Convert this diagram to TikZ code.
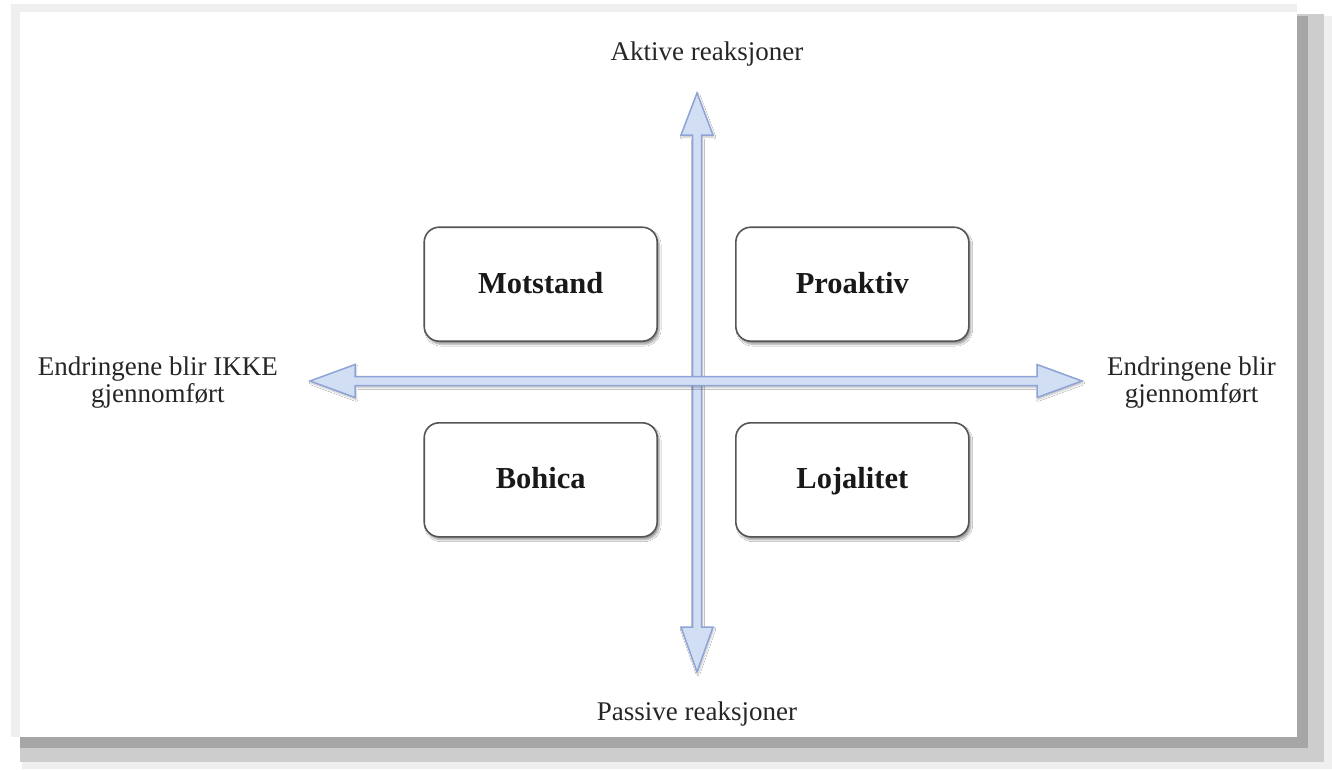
\documentclass[tikz,border=0pt]{standalone}
\usepackage{fontspec}
\setmainfont{Liberation Serif}
\usetikzlibrary{positioning,calc,shadows.blur}

\definecolor{axisfill}{HTML}{D2DEF4}
\definecolor{axisline}{HTML}{8EA4D6}
\definecolor{boxline}{HTML}{555555}
\definecolor{framelight}{HTML}{EFEFEF}
\definecolor{framemid}{HTML}{CDCDCD}
\definecolor{framedark}{HTML}{A6A6A6}

\begin{document}
\begin{tikzpicture}[
  x=1pt, y=-1pt,
  node distance=39pt and 39pt,
  quad/.style={draw=boxline, line width=1.6pt, rounded corners=15pt, fill=white, minimum width=233pt, minimum height=114pt,
    text height=22pt, text depth=4pt,
    font=\fontsize{30.5}{34}\selectfont\bfseries, text=black!90,
    blur shadow={shadow xshift=2pt, shadow yshift=-3pt, shadow blur steps=6, shadow opacity=40}},
  axislabel/.style={font=\fontsize{27}{27}\selectfont, text=black!85, align=center, inner sep=0pt},
  axis/.style={draw=axisline, fill=axisfill, line width=1.5pt, line join=miter,
    blur shadow={shadow xshift=1pt, shadow yshift=-2pt, shadow opacity=25}}
]

% frame with shadow
\useasboundingbox (0,0) rectangle (1332,769);
\fill[framelight] (11,4) rectangle (1297,737);
\fill[framelight] (22,16) rectangle (1332,769);
\fill[framemid] (20,14) rectangle (1324,762);
\fill[framedark] (20,16) rectangle (1308,748);
\fill[white] (20,12) rectangle (1297,737);

\coordinate (o) at (697,381);
\coordinate (ntip) at (697,93);
\coordinate (stip) at (697,672);
\coordinate (wtip) at (310,381);
\coordinate (etip) at (1082,381);

% axes
\draw[axis] (ntip) -- ($(ntip)+(16,42)$) -- ($(ntip)+(4.5,42)$) -- ($(stip)+(4.5,-45)$) -- ($(stip)+(16,-45)$)
  -- (stip) -- ($(stip)+(-16,-45)$) -- ($(stip)+(-4.5,-45)$) -- ($(ntip)+(-4.5,42)$) -- ($(ntip)+(-16,42)$) -- cycle;
\draw[axis] (wtip) -- ($(wtip)+(45,-16.5)$) -- ($(wtip)+(45,-4.5)$) -- ($(etip)+(-45,-4.5)$) -- ($(etip)+(-45,-16.5)$)
  -- (etip) -- ($(etip)+(-45,16.5)$) -- ($(etip)+(-45,4.5)$) -- ($(wtip)+(45,4.5)$) -- ($(wtip)+(45,16.5)$) -- cycle;

\node[quad, above left=39pt and 39pt of o] (motstand) {Motstand};
\node[quad, above right=39pt and 38pt of o] (proaktiv) {Proaktiv};
\node[quad, below left=41pt and 39pt of o] (bohica) {Bohica};
\node[quad, below right=41pt and 38pt of o] (lojalitet) {Lojalitet};

\node[axislabel, above=27pt of ntip, xshift=10pt] (aktive) {Aktive reaksjoner};
\node[axislabel, below=30pt of stip] (passive) {Passive reaksjoner};
\node[axislabel, left=32pt of wtip, yshift=-2pt] (ikke) {Endringene blir IKKE\\gjennomført};
\node[axislabel, right=25pt of etip, yshift=-2pt] (blir) {Endringene blir\\gjennomført};

\end{tikzpicture}
\end{document}
